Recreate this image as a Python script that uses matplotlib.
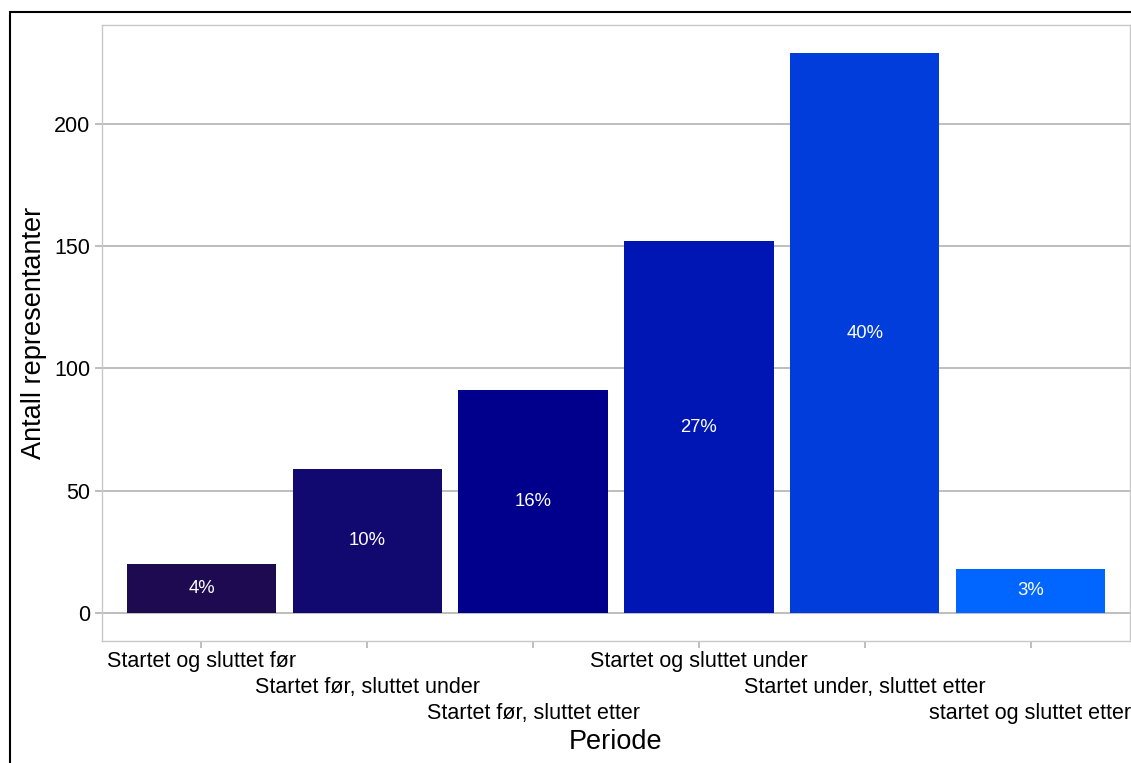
import matplotlib
matplotlib.use('Agg')
import matplotlib.pyplot as plt
from matplotlib.patches import Rectangle
from matplotlib.transforms import offset_copy

plt.rcParams['font.family'] = ['Liberation Sans', 'DejaVu Sans']

periods = ['Startet og sluttet før', 'Startet før, sluttet under', 'Startet før, sluttet etter',
           'Startet og sluttet under', 'Startet under, sluttet etter', 'startet og sluttet etter']
counts = [20, 59, 91, 152, 229, 18]
pct_labels = ['4%', '10%', '16%', '27%', '40%', '3%']
colors = ['#1e0a50', '#110870', '#00008c', '#0016b4', '#003ddb', '#0066ff']

fig = plt.figure(figsize=(11.31, 7.63), dpi=100)
ax = fig.add_axes([102/1131, 122/763, 1028/1131, 616/763])

x = list(range(len(periods)))
ax.bar(x, counts, width=0.9, color=colors, zorder=3)
for xi, c, lab in zip(x, counts, pct_labels):
    ax.text(xi, c / 2, lab, color='white', ha='center', va='center', fontsize=13.3, zorder=4)

ax.set_xlim(-0.6, 5.6)
ax.set_ylim(-11.45, 240.45)
ax.set_yticks([0, 50, 100, 150, 200])
ax.grid(axis='y', color='#b3b3b3', linewidth=1.2, zorder=0)
ax.set_xticks(x)
ax.set_xticklabels([])
ax.tick_params(axis='both', colors='#b3b3b3', length=5, width=1.2, labelcolor='black', labelsize=15.5)
for s in ax.spines.values():
    s.set_color('#c8c8c8')
    s.set_linewidth(1.0)

# staggered period labels (three rows, like a dodged ggplot axis)
row_offsets = [20, 46, 72]
for i, p in enumerate(periods):
    tr = offset_copy(ax.get_xaxis_transform(), fig=fig, y=-row_offsets[i % 3], units='dots')
    ax.text(i, 0, p, transform=tr, ha='center', va='center', fontsize=15.5, clip_on=False)

ax.set_ylabel('Antall representanter', fontsize=19.5)
ax.yaxis.set_label_coords(-68/1028, 0.5)
ax.yaxis.label.set_va('center')
ax.set_xlabel('Periode', fontsize=19.5)
ax.xaxis.set_label_coords(0.5, -101/616)
ax.xaxis.label.set_va('center')

fig.patches.append(Rectangle((10/1131, -0.1), 1.2, 0.1 + 1 - 12/763, transform=fig.transFigure,
                             fill=False, edgecolor='black', linewidth=1.5))

fig.savefig('out.png', dpi=100)
